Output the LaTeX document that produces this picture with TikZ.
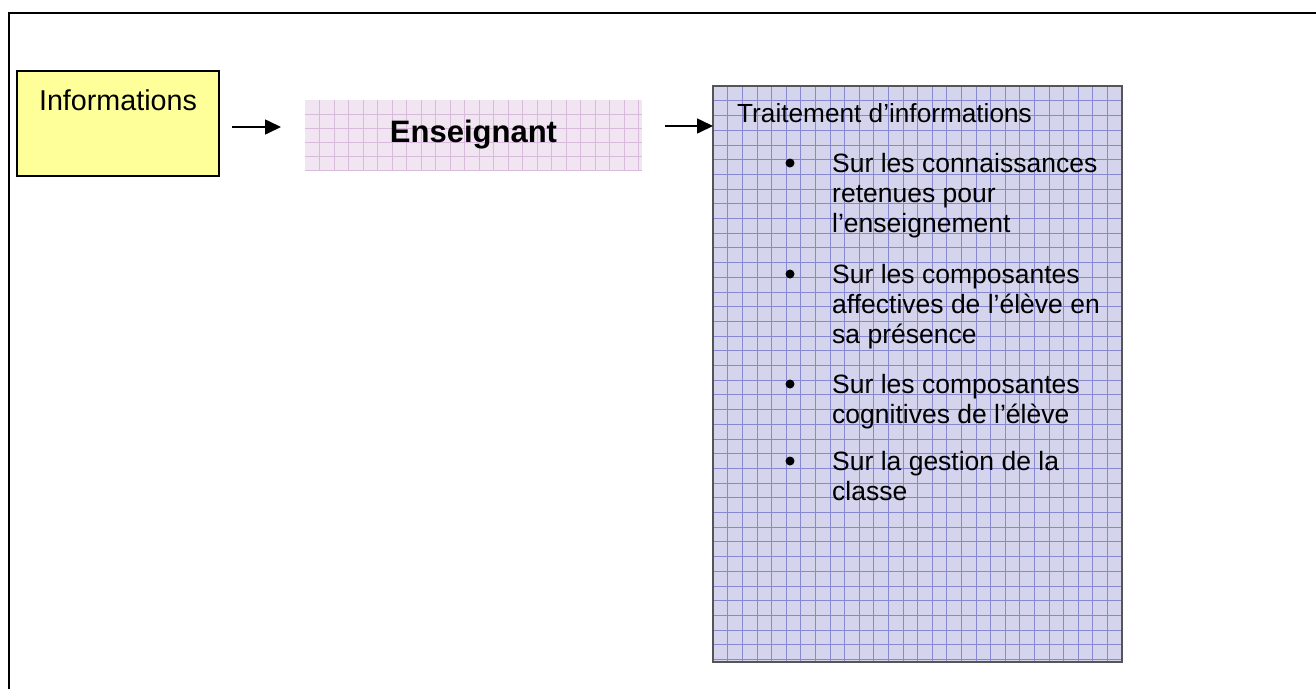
\documentclass[tikz,border=0pt]{standalone}
\usepackage{fontspec}
\setmainfont{Liberation Sans}
\usetikzlibrary{arrows.meta}
\definecolor{infofill}{RGB}{255,255,153}
\definecolor{ensfill}{RGB}{240,229,241}
\definecolor{ensgrid}{RGB}{216,186,220}
\definecolor{traitfill}{RGB}{212,212,236}
\definecolor{traitgrid}{RGB}{136,136,208}
\definecolor{traitborder}{RGB}{85,85,85}
\begin{document}
\begin{tikzpicture}[x=1pt,y=-1pt,
  arr/.style={line width=1.6pt,-{Triangle[length=16pt,width=15pt]}},
  boxnode/.style={anchor=north west,inner sep=0pt,outer sep=0pt},
  bullettext/.style={anchor=base west,inner sep=0pt,font=\fontsize{26.5}{30.3}\selectfont},
  bulletdot/.style={circle,fill=black,inner sep=0pt,minimum size=9pt}]
\useasboundingbox (0,0) rectangle (1316,689);
\fill[white] (0,0) rectangle (1316,689);
% outer frame
\draw[line width=2pt] (8.5,689) -- (8.5,13) -- (1316,13);
% Informations box
\node[boxnode,draw=black,line width=1.3pt,fill=infofill,minimum width=202pt,minimum height=105pt] (info) at (17,71) {};
\node[anchor=base,inner sep=0pt,font=\fontsize{28.7}{33}\selectfont] (infotext) at (118,110) {Informations};
% Enseignant box with grid
\begin{scope}
  \clip (305,100) rectangle (642,170);
  \fill[ensfill] (305,100) rectangle (642,170);
  \foreach \i in {1,...,24} \draw[ensgrid,line width=0.7pt] ({305+14.5*\i},100) -- ++(0,70);
  \foreach \j in {1,...,5} \draw[ensgrid,line width=0.7pt] (305,{100+14*\j}) -- ++(337,0);
\end{scope}
\node[boxnode,minimum width=337pt,minimum height=70pt] (ens) at (305,100) {};
\node[anchor=base,inner sep=0pt,font=\fontsize{31}{36}\selectfont\bfseries] (enstext) at (473.5,142) {Enseignant};
% Traitement box with grid
\begin{scope}
  \clip (713,86) rectangle (1122,662);
  \fill[traitfill] (713,86) rectangle (1122,662);
  \foreach \i in {1,...,28} \draw[traitgrid,line width=0.6pt] ({713+14.6*\i},86) -- ++(0,576);
  \foreach \j in {1,...,39} \draw[traitgrid,line width=0.6pt] (713,{86+14.7*\j}) -- ++(409,0);
\end{scope}
\node[boxnode,draw=traitborder,line width=2pt,minimum width=409pt,minimum height=576pt] (trait) at (713,86) {};
\node[anchor=base west,inner sep=0pt,font=\fontsize{26.2}{30}\selectfont] (title) at (737,122) {Traitement d’informations};
\node[bulletdot] (d1) at (790,163) {};
\node[bullettext] (b1) at (832,172) {\begin{tabular}[t]{@{}l@{}}Sur les connaissances\\retenues pour\\l’enseignement\end{tabular}};
\node[bulletdot] (d2) at (790,274) {};
\node[bullettext] (b2) at (832,283) {\begin{tabular}[t]{@{}l@{}}Sur les composantes\\affectives de l’élève en\\sa présence\end{tabular}};
\node[bulletdot] (d3) at (790,384) {};
\node[bullettext] (b3) at (832,393) {\begin{tabular}[t]{@{}l@{}}Sur les composantes\\cognitives de l’élève\end{tabular}};
\node[bulletdot] (d4) at (790,461) {};
\node[bullettext] (b4) at (832,470) {\begin{tabular}[t]{@{}l@{}}Sur la gestion de la\\classe\end{tabular}};
% arrows
\coordinate (r1) at (0,127);
\coordinate (r2) at (0,126);
\draw[arr,shorten <=13pt,shorten >=24pt] (info.east |- r1) -- (ens.west |- r1);
\draw[arr,shorten <=23pt] (ens.east |- r2) -- (trait.west |- r2);
\end{tikzpicture}
\end{document}
